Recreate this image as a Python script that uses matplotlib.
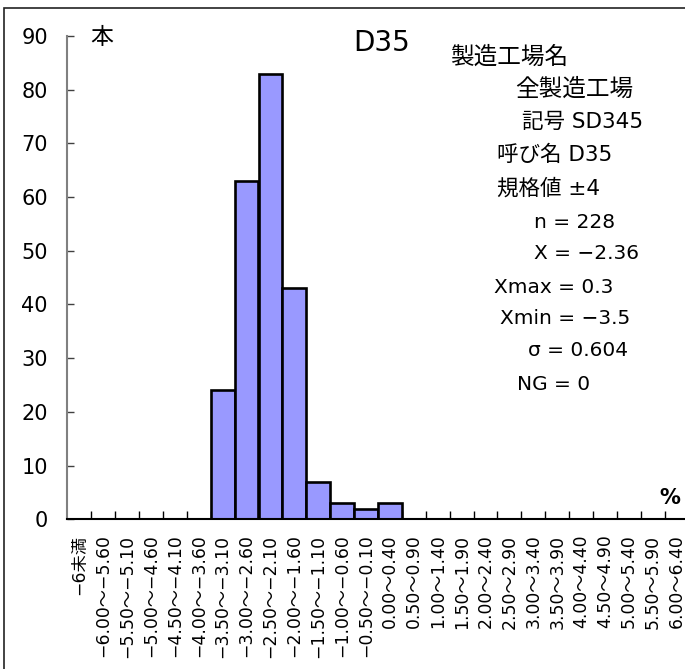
import matplotlib
matplotlib.use("Agg")
import matplotlib.pyplot as plt
from matplotlib.patches import Rectangle
import numpy as np

plt.rcParams['font.family'] = ['DejaVu Sans', 'Noto Sans CJK JP']

# データ
categories = ["−6未満", "−6.00～−5.60", "−5.50～−5.10", "−5.00～−4.60", "−4.50～−4.10",
              "−4.00～−3.60", "−3.50～−3.10", "−3.00～−2.60", "−2.50～−2.10", "−2.00～−1.60",
              "−1.50～−1.10", "−1.00～−0.60", "−0.50～−0.10", "0.00～0.40", "0.50～0.90",
              "1.00～1.40", "1.50～1.90", "2.00～2.40", "2.50～2.90", "3.00～3.40",
              "3.50～3.90", "4.00～4.40", "4.50～4.90", "5.00～5.40", "5.50～5.90",
              "6.00～6.40"]
counts = [0, 0, 0, 0, 0, 0, 24, 63, 83, 43, 7, 3, 2, 3, 0, 0, 0, 0, 0, 0, 0, 0, 0, 0, 0, 0]
y_ticks = [0, 10, 20, 30, 40, 50, 60, 70, 80, 90]

info_lines = ["製造工場名", "全製造工場", "記号 SD345", "呼び名 D35", "規格値 ±4",
              "n = 228", "X = −2.36", "Xmax = 0.3", "Xmin = −3.5", "σ = 0.604", "NG = 0"]
info_x = [450, 515, 522, 497, 497, 534, 534, 494, 500, 528, 517]
info_y = [57, 89, 122, 155, 188, 222, 253, 287, 318, 350, 385]

W, H = 685, 669
fig = plt.figure(figsize=(W / 100, H / 100), dpi=100)
ax = fig.add_axes([67.3 / W, 149.7 / H, 26 * 23.9 / W, 483.3 / H])

x = np.arange(len(categories))
ax.bar(x, counts, width=1.0, color="#9999FF", edgecolor="black", linewidth=1.9, zorder=3)

ax.set_xlim(-0.5, len(categories) - 0.5)
ax.set_ylim(0, 90)
ax.set_yticks(y_ticks)
ax.tick_params(axis='y', direction='in', length=5, width=1, color='#404040',
               labelsize=15, pad=14)
ax.set_xticks(x)
ax.set_xticklabels(categories, rotation=90, fontsize=12.4)
ax.tick_params(axis='x', which='major', length=0, pad=11)
ax.set_xticks(np.arange(0.5, len(categories) - 0.5, 1), minor=True)
ax.tick_params(axis='x', which='minor', direction='in', length=6, width=1, color='black')

for s in ['top', 'right']:
    ax.spines[s].set_visible(False)
ax.spines['left'].set_color('#808080')
ax.spines['left'].set_linewidth(1.5)
ax.spines['bottom'].set_color('black')
ax.spines['bottom'].set_linewidth(1.5)
ax.spines['bottom'].set_zorder(4)

# 枠線
fig.patches.append(Rectangle((4 / W, -0.1), 1.2, 1 - 8 / H + 0.1, transform=fig.transFigure,
                             fill=False, edgecolor='#222222', linewidth=1.2))

fig.text(102 / W, 1 - 38 / H, "本", fontsize=16.5, ha='center', va='center')
fig.text(353 / W, 1 - 43 / H, "D35", fontsize=20, ha='left', va='center')
fig.text(670 / W, 1 - 498 / H, "%", fontsize=15, ha='center', va='center', fontweight='bold')


def text_size(t):
    n_cjk = sum(1 for c in t if c >= '\u3000')
    if n_cjk == len(t):
        return 17
    if n_cjk > 0:
        return 15.5
    return 14.5


for t, px, py in zip(info_lines, info_x, info_y):
    fig.text(px / W, 1 - py / H, t, fontsize=text_size(t), ha='left', va='center')

fig.savefig("out.png", dpi=100)
